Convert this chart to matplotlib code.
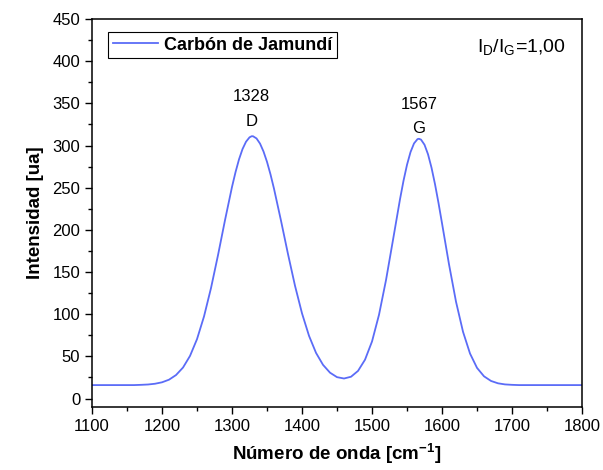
import numpy as np
import matplotlib
matplotlib.use("Agg")
from matplotlib import pyplot as plt
from matplotlib.ticker import MultipleLocator

plt.rcParams['font.family'] = ['Liberation Sans', 'DejaVu Sans']
plt.rcParams['mathtext.fontset'] = 'custom'
plt.rcParams['mathtext.rm'] = 'Liberation Sans'
plt.rcParams['mathtext.it'] = 'Liberation Sans:italic'
plt.rcParams['mathtext.bf'] = 'Liberation Sans:bold'

# Raman spectrum
wavenumber = [
    1100, 1110, 1120, 1130, 1140, 1150, 1160, 1170, 1180, 1190,
    1200, 1210, 1220, 1230, 1240, 1250, 1260, 1270, 1280, 1290,
    1300, 1305, 1310, 1315, 1320, 1325, 1328, 1330, 1335, 1340, 1345,
    1350, 1355, 1360, 1370, 1380, 1390,
    1400, 1410, 1420, 1430, 1440, 1450, 1460, 1470, 1480, 1490,
    1500, 1510, 1520, 1530, 1540, 1545, 1550, 1555, 1560, 1565, 1567,
    1570, 1575, 1580, 1585, 1590, 1595,
    1600, 1610, 1620, 1630, 1640, 1650, 1660, 1670, 1680, 1690,
    1700, 1710, 1720, 1730, 1740, 1750, 1760, 1770, 1780, 1790, 1800,
]
intensity = [
    16.0, 16.0, 16.0, 16.0, 16.0, 16.0, 16.0, 16.3, 16.7, 17.6,
    19.3, 22.4, 27.9, 36.8, 50.6, 70.5, 97.4, 131.1, 170.1, 211.6,
    251.0, 268.4, 283.6, 295.8, 304.5, 309.7, 311.0, 311.0, 308.4, 302.3, 292.9,
    280.6, 265.7, 248.7, 210.8, 171.2, 133.7,
    101.0, 74.4, 54.2, 40.0, 30.7, 25.4, 23.8, 25.9, 32.8, 46.1,
    67.7, 99.4, 140.5, 188.2, 236.4, 258.3, 277.2, 292.2, 302.5, 307.6, 308.0,
    307.0, 300.9, 289.6, 273.7, 254.1, 231.8,
    207.8, 159.1, 114.8, 79.2, 53.4, 36.4, 26.4, 20.9, 18.1, 16.8,
    16.3, 16.0, 16.0, 16.0, 16.0, 16.0, 16.0, 16.0, 16.0, 16.0, 16.0,
]

peak_pos = [1328, 1567]
peak_names = ["D", "G"]
peak_num_y = [358, 349]
peak_name_y = [328, 320]

serie = "Carbón de Jamundí"
ratio_text = "I$_\\mathrm{D}$/I$_\\mathrm{G}$=1,00"

fig = plt.figure(figsize=(6.03, 4.70), dpi=100)
ax = fig.add_axes([0.1526, 0.134, 0.8126, 0.8256])

ax.plot(wavenumber, intensity, color='#5b6cf7', lw=1.3, label=serie)

for p, name, yn, yl in zip(peak_pos, peak_names, peak_num_y, peak_name_y):
    ax.text(p, yn, str(p), ha='center', va='center', fontsize=12)
    ax.text(p, yl, name, ha='center', va='center', fontsize=12)

ax.text(0.786, 0.915, ratio_text, transform=ax.transAxes, fontsize=14,
        ha='left', va='baseline')

ax.set_xlim(1100, 1800)
ax.set_ylim(-10, 450)
ax.xaxis.set_major_locator(MultipleLocator(100))
ax.xaxis.set_minor_locator(MultipleLocator(50))
ax.yaxis.set_major_locator(MultipleLocator(50))
ax.yaxis.set_minor_locator(MultipleLocator(25))
ax.tick_params(which='both', direction='out', top=False, right=False,
               labelsize=12, width=1.0)
ax.tick_params(which='major', length=5)
ax.tick_params(which='minor', length=3)
for s in ax.spines.values():
    s.set_linewidth(1.1)

ax.set_xlabel("Número de onda [cm$^{\\mathbf{-1}}$]", fontsize=13.5,
              fontweight='bold', labelpad=6)
ax.set_ylabel("Intensidad [ua]", fontsize=13.5, fontweight='bold', labelpad=6)

leg = ax.legend(loc='upper left', bbox_to_anchor=(0.0327, 0.9665),
                borderaxespad=0, fancybox=False, framealpha=1,
                edgecolor='black', handlelength=2.5, handletextpad=0.35,
                borderpad=0.25, prop={'weight': 'bold', 'size': 13})
leg.get_frame().set_linewidth(0.8)

plt.savefig('out.png', dpi=100)
